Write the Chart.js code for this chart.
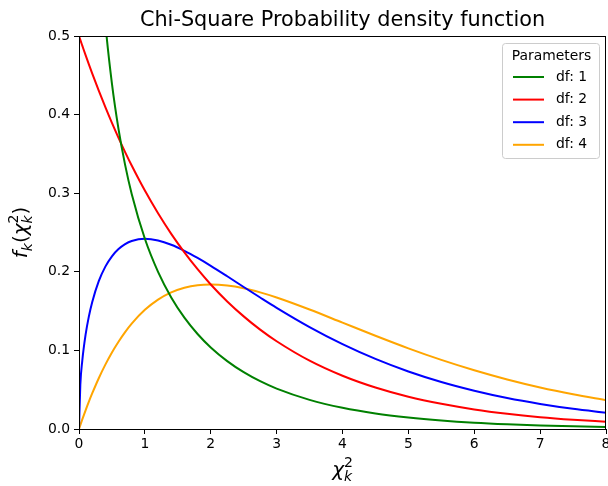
<!DOCTYPE html>
<html>
<head>
<meta charset="utf-8">
<script src="https://cdn.jsdelivr.net/npm/chart.js@4/dist/chart.umd.min.js"></script>
<style>
  html, body { margin: 0; padding: 0; background: #fff; }
  #wrap { width: 608px; height: 486px; }
</style>
</head>
<body>
<div id="wrap"><canvas id="chart" width="608" height="486"></canvas></div>
<script>
// values
const xValues = [0, 0.02, 0.05, 0.1, 0.15, 0.2, 0.3, 0.4, 0.5, 0.6, 0.7, 0.8, 1.0, 1.2, 1.4, 1.6, 1.8, 2.0,
  2.25, 2.5, 2.75, 3, 3.5, 4, 4.5, 5, 5.5, 6, 6.5, 7, 7.5, 8];
const df1 = [null, 2.793, 1.740, 1.200, 0.9556, 0.8072, 0.6269, 0.5164, 0.4394, 0.3815, 0.3360, 0.2990, 0.2420,
  0.1999, 0.1674, 0.1417, 0.1209, 0.1038, 0.0864, 0.0723, 0.0608, 0.0514, 0.0371, 0.0270, 0.0198, 0.0147,
  0.0109, 0.0081, 0.0061, 0.0046, 0.0034, 0.0026];
const df2 = [0.5, 0.4950, 0.4877, 0.4756, 0.4639, 0.4524, 0.4304, 0.4094, 0.3894, 0.3704, 0.3523, 0.3352, 0.3033,
  0.2744, 0.2483, 0.2247, 0.2033, 0.1839, 0.1623, 0.1433, 0.1264, 0.1116, 0.0869, 0.0677, 0.0527, 0.0410,
  0.0320, 0.0249, 0.0194, 0.0151, 0.0118, 0.0092];
const df3 = [0, 0.0559, 0.0870, 0.1200, 0.1433, 0.1614, 0.1881, 0.2066, 0.2197, 0.2289, 0.2352, 0.2392, 0.2420,
  0.2398, 0.2344, 0.2267, 0.2176, 0.2076, 0.1943, 0.1807, 0.1673, 0.1542, 0.1297, 0.1080, 0.0892, 0.0732,
  0.0598, 0.0487, 0.0394, 0.0319, 0.0257, 0.0207];
const df4 = [0, 0.0050, 0.0122, 0.0238, 0.0348, 0.0452, 0.0646, 0.0819, 0.0974, 0.1111, 0.1233, 0.1341, 0.1516,
  0.1646, 0.1738, 0.1797, 0.1830, 0.1839, 0.1826, 0.1791, 0.1738, 0.1673, 0.1520, 0.1353, 0.1186, 0.1026,
  0.0879, 0.0747, 0.0630, 0.0528, 0.0441, 0.0366];
const seriesLabels = ['df: 1', 'df: 2', 'df: 3', 'df: 4'];
const seriesColors = ['#008000', '#ff0000', '#0000ff', '#ffa500'];
const xTicks = [0, 1, 2, 3, 4, 5, 6, 7, 8];
const yTicks = [0, 0.1, 0.2, 0.3, 0.4, 0.5];

const FONT = '"DejaVu Sans", sans-serif';

// draw a small mathtext-like label: parts = [text, style, pos]
function mathWidth(ctx, parts, size) {
  let w = 0, lastScript = 0;
  parts.forEach(p => {
    const fs = p[2] === 'base' ? size : size * 0.7;
    ctx.font = (p[1] === 'i' ? 'italic ' : '') + fs + 'px ' + FONT;
    const pw = ctx.measureText(p[0]).width;
    if (p[2] === 'sub' && lastScript) { w += Math.max(0, pw - lastScript); lastScript = 0; }
    else if (p[2] === 'sup') { w += pw; lastScript = pw; }
    else { w += pw; lastScript = 0; }
  });
  return w;
}
function drawMath(ctx, parts, cx, baseY, size) {
  const total = mathWidth(ctx, parts, size);
  let x = cx - total / 2, supStart = null;
  ctx.textAlign = 'left';
  ctx.textBaseline = 'alphabetic';
  parts.forEach(p => {
    const fs = p[2] === 'base' ? size : size * 0.7;
    ctx.font = (p[1] === 'i' ? 'italic ' : '') + fs + 'px ' + FONT;
    const pw = ctx.measureText(p[0]).width;
    if (p[2] === 'sup') {
      ctx.fillText(p[0], x, baseY - size * 0.45);
      supStart = x; x += pw;
    } else if (p[2] === 'sub') {
      const sx = supStart !== null ? supStart : x;
      ctx.fillText(p[0], sx, baseY + size * 0.25);
      x = Math.max(x, sx + pw);
      supStart = null;
    } else {
      ctx.fillText(p[0], x, baseY);
      x += pw; supStart = null;
    }
  });
}

const decorPlugin = {
  id: 'decor',
  afterDraw(chart) {
    const { ctx, chartArea: a } = chart;
    ctx.save();
    // full box like matplotlib spines
    ctx.strokeStyle = '#000';
    ctx.lineWidth = 1;
    ctx.strokeRect(a.left + 0.5, a.top + 0.5, a.right - a.left - 1, a.bottom - a.top);

    // title
    ctx.fillStyle = '#000';
    ctx.font = '20.8px ' + FONT;
    ctx.textAlign = 'center';
    ctx.textBaseline = 'alphabetic';
    ctx.fillText('Chi-Square Probability density function', (a.left + a.right) / 2, 26);

    // x label
    drawMath(ctx, [['χ', 'i', 'base'], ['2', 'n', 'sup'], ['k', 'i', 'sub']], (a.left + a.right) / 2, 476, 20);

    // y label, rotated
    ctx.save();
    ctx.translate(27, (a.top + a.bottom) / 2);
    ctx.rotate(-Math.PI / 2);
    drawMath(ctx, [['f', 'i', 'base'], ['k', 'i', 'sub'], ['(', 'n', 'base'], ['χ', 'i', 'base'],
      ['2', 'n', 'sup'], ['k', 'i', 'sub'], [')', 'n', 'base']], 0, 0, 20);
    ctx.restore();

    // legend box
    const bx = a.right - 104, by = a.top + 7, bw = 97, bh = 115;
    ctx.fillStyle = 'rgba(255,255,255,0.8)';
    ctx.strokeStyle = '#cccccc';
    ctx.lineWidth = 1;
    ctx.beginPath();
    ctx.roundRect(bx + 0.5, by + 0.5, bw, bh, 3);
    ctx.fill();
    ctx.stroke();
    ctx.fillStyle = '#000';
    ctx.font = '13.9px ' + FONT;
    ctx.textAlign = 'center';
    ctx.textBaseline = 'middle';
    ctx.fillText('Parameters', bx + bw / 2 + 1, by + 13);
    chart.data.datasets.forEach((ds, i) => {
      const y = by + 34 + i * 22.6;
      ctx.strokeStyle = ds.borderColor;
      ctx.lineWidth = 2;
      ctx.beginPath();
      ctx.moveTo(bx + 11, y);
      ctx.lineTo(bx + 42, y);
      ctx.stroke();
      ctx.fillStyle = '#000';
      ctx.textAlign = 'left';
      ctx.fillText(ds.label, bx + 54, y);
    });
    ctx.restore();
  }
};

const datasets = [df1, df2, df3, df4].map((vals, i) => ({
  label: seriesLabels[i],
  data: xValues.map((x, j) => ({ x: x, y: vals[j] })),
  borderColor: seriesColors[i],
  backgroundColor: seriesColors[i],
  borderWidth: 2,
  pointRadius: 0,
  cubicInterpolationMode: 'monotone',
  spanGaps: false
}));

new Chart(document.getElementById('chart').getContext('2d'), {
  type: 'line',
  data: { datasets },
  options: {
    responsive: false,
    animation: false,
    events: [],
    layout: { padding: { top: 36, right: 2, left: 0, bottom: 0 } },
    plugins: { legend: { display: false }, tooltip: { enabled: false }, title: { display: false } },
    scales: {
      x: {
        type: 'linear',
        min: 0,
        max: 8,
        afterBuildTicks: s => { s.ticks = xTicks.map(v => ({ value: v })); },
        afterFit: s => { s.height = 57; s.paddingLeft = 0; s.paddingRight = 0; },
        ticks: { color: '#000', font: { family: FONT, size: 13.9 }, padding: 2, maxRotation: 0 },
        grid: { drawOnChartArea: false, drawTicks: true, tickLength: 5, color: '#000' },
        border: { color: '#000', width: 1 }
      },
      y: {
        min: 0,
        max: 0.5,
        afterBuildTicks: s => { s.ticks = yTicks.map(v => ({ value: v })); },
        afterFit: s => { s.width = 79; s.paddingTop = 0; s.paddingBottom = 0; },
        ticks: { color: '#000', font: { family: FONT, size: 13.9 }, padding: 4, callback: v => v.toFixed(1) },
        grid: { drawOnChartArea: false, drawTicks: true, tickLength: 5, color: '#000' },
        border: { color: '#000', width: 1 }
      }
    }
  },
  plugins: [decorPlugin]
});
</script>
</body>
</html>
